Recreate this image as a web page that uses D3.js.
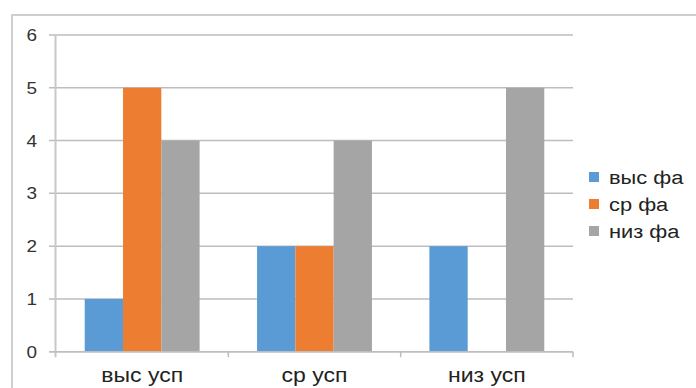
<!DOCTYPE html>
<html>
<head>
<meta charset="utf-8">
<script src="https://cdn.jsdelivr.net/npm/d3@7"></script>
<style>
  html, body { margin: 0; padding: 0; background: #fff; }
  svg { display: block; }
  text { font-family: "Liberation Sans", Arial, sans-serif; }
</style>
</head>
<body>
<svg id="chart" width="696" height="388"></svg>
<script>
// Categories along the x axis
const categories = ["выс усп", "ср усп", "низ усп"];
// Series names (legend order)
const seriesNames = ["выс фа", "ср фа", "низ фа"];
// Values per series, one per category
const vysFa = [1, 2, 2];
const srFa = [5, 2, 0];
const nizFa = [4, 4, 5];
// Y axis ticks
const yTicks = [0, 1, 2, 3, 4, 5, 6];
const colors = ["#5B9BD5", "#ED7D31", "#A5A5A5"];

const seriesValues = [vysFa, srFa, nizFa];
const rows = [];
categories.forEach((c, ci) => {
  seriesNames.forEach((s, si) => rows.push({ cat: c, series: s, si, value: seriesValues[si][ci] }));
});

const svg = d3.select("#chart");
const W = 696, H = 388;
const plot = { left: 56, right: 573, top: 35, bottom: 351.7 };
const textStretch = 1.15;

// outer chart frame
svg.append("rect")
  .attr("x", 12).attr("y", 15)
  .attr("width", 720).attr("height", 400)
  .attr("fill", "none").attr("stroke", "#cfcfcf").attr("stroke-width", 2);

const y = d3.scaleLinear().domain([0, 6]).range([plot.bottom, plot.top]);
const x = d3.scaleBand().domain(categories).range([plot.left, plot.right]).paddingInner(0).paddingOuter(0);
const xs = d3.scaleBand().domain(seriesNames).range([0, x.bandwidth()]).paddingInner(0).paddingOuter(0.75);

// horizontal gridlines
svg.append("g").selectAll("line").data(yTicks).join("line")
  .attr("x1", 49).attr("x2", plot.right)
  .attr("y1", d => y(d)).attr("y2", d => y(d))
  .attr("stroke", "#bdbdbd").attr("stroke-width", 1.5);

// y tick labels
svg.append("g").selectAll("text").data(yTicks).join("text")
  .attr("transform", d => `translate(37,${y(d) + 6}) scale(${textStretch},1)`)
  .attr("text-anchor", "end")
  .attr("font-size", 16.5)
  .attr("fill", "#333")
  .text(d => d);

// bars
svg.append("g").selectAll("rect").data(rows).join("rect")
  .attr("x", d => x(d.cat) + xs(d.series))
  .attr("width", xs.bandwidth())
  .attr("y", d => y(d.value))
  .attr("height", d => y(0) - y(d.value))
  .attr("fill", d => colors[d.si]);

// value axis line
svg.append("line")
  .attr("x1", plot.left - 0.5).attr("x2", plot.left - 0.5)
  .attr("y1", plot.top).attr("y2", plot.bottom + 5.5)
  .attr("stroke", "#c8c8c8").attr("stroke-width", 2);

// category axis line and tick marks
svg.append("line")
  .attr("x1", 49).attr("x2", plot.right)
  .attr("y1", plot.bottom).attr("y2", plot.bottom)
  .attr("stroke", "#bdbdbd").attr("stroke-width", 1.5);
const boundaries = categories.map(c => x(c) + x.bandwidth()).filter((v, i) => i >= 0);
svg.append("g").selectAll("line").data(boundaries).join("line")
  .attr("x1", d => d).attr("x2", d => d)
  .attr("y1", plot.bottom).attr("y2", plot.bottom + 5.5)
  .attr("stroke", "#bdbdbd").attr("stroke-width", 1.5);

// category labels
svg.append("g").selectAll("text").data(categories).join("text")
  .attr("transform", c => `translate(${x(c) + x.bandwidth() / 2},382) scale(${textStretch},1)`)
  .attr("text-anchor", "middle")
  .attr("font-size", 20)
  .attr("fill", "#222")
  .text(c => c);

// legend
const legend = svg.append("g").selectAll("g").data(seriesNames).join("g")
  .attr("transform", (d, i) => `translate(589,${177 + i * 27})`);
legend.append("rect")
  .attr("x", 0).attr("y", -5).attr("width", 10).attr("height", 10)
  .attr("fill", (d, i) => colors[i]);
legend.append("text")
  .attr("transform", `translate(20,7) scale(${textStretch},1)`)
  .attr("font-size", 19)
  .attr("fill", "#222")
  .text(d => d);
</script>
</body>
</html>
